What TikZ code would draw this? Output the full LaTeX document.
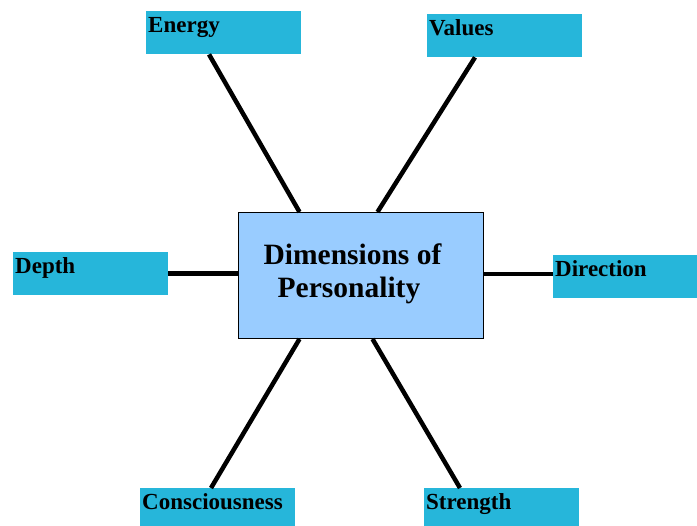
\documentclass[tikz,border=0pt]{standalone}
\usepackage{fontspec}
\setmainfont{Liberation Serif}
\usepackage{tikz}
\usetikzlibrary{calc}
\definecolor{outerblue}{RGB}{38,182,218}
\definecolor{innerblue}{RGB}{153,204,255}
\tikzstyle{dim} = [draw=black, line width=1pt, fill=innerblue, minimum width=245, minimum height=126, align=center, font=\fontsize{29.5}{33}\selectfont\bfseries]
\tikzstyle{leaf} = [fill=outerblue, anchor=north west, inner xsep=2, inner ysep=5, text height=16, text depth=17, text width=151, align=left, font=\fontsize{23}{26}\selectfont\bfseries]
\tikzstyle{spoke} = [draw=black, line width=4.5pt]

\begin{document}
\begin{tikzpicture}[x=1pt,y=-1pt]
\useasboundingbox (0,0) rectangle (697,526);

\node[dim] (dims) at (360.5,275.5) {\hspace*{-16pt}Dimensions of\\\hspace*{-23pt}Personality\rule[-10pt]{0pt}{0pt}};
\node[leaf] (energy) at (146,11) {Energy};
\node[leaf] (values) at (427,14) {Values};
\node[leaf] (depth) at (13,252) {Depth};
\node[leaf, text width=140] (direction) at (553,255) {Direction};
\node[leaf] (consc) at (140,488) {Consciousness};
\node[leaf] (strength) at (424,488) {Strength};

\path[spoke]
($(energy.south west)+(63,0)$) edge ($(dims.north west)+(62,0)$)
($(values.south west)+(48,0)$) edge ($(dims.north west)+(140,0)$)
(depth.east) edge (depth.east -| dims.west)
(dims.east |- 0,274) edge (direction.west |- 0,274)
($(dims.south west)+(62,0)$) edge ($(consc.north west)+(71,0)$)
($(dims.south west)+(135,0)$) edge ($(strength.north west)+(36,0)$);

\end{tikzpicture}
\end{document}
